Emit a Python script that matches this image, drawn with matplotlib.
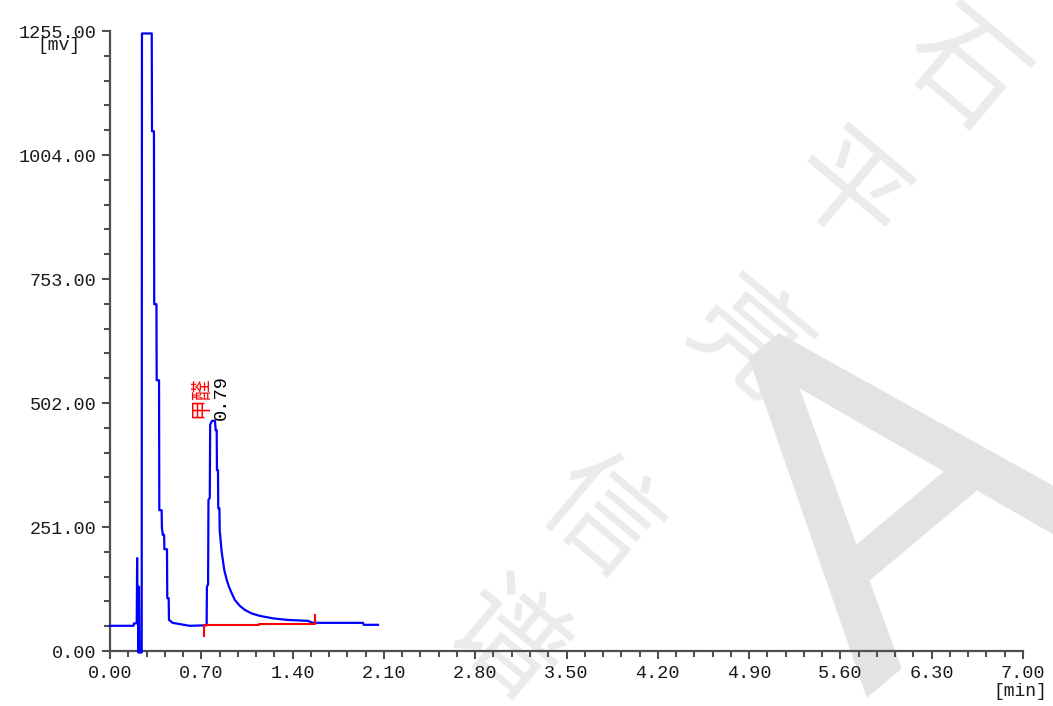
import matplotlib
matplotlib.use('Agg')
import matplotlib.pyplot as plt
import numpy as np

# chromatogram trace (min, mV)
time_min = [0.000, 0.180, 0.184, 0.205, 0.208, 0.211, 0.214, 0.218, 0.222, 0.226,
            0.243, 0.245, 0.320, 0.322, 0.337, 0.339, 0.356, 0.358, 0.376, 0.378,
            0.396, 0.398, 0.405, 0.415, 0.417, 0.437, 0.439, 0.450, 0.452, 0.480,
            0.610, 0.741, 0.743, 0.752, 0.755, 0.765, 0.768, 0.782, 0.805, 0.810,
            0.818, 0.820, 0.828, 0.830, 0.839, 0.841, 0.856, 0.876, 0.895, 0.912,
            0.933, 0.958, 0.997, 1.035, 1.086, 1.150, 1.252, 1.355, 1.518, 1.556,
            1.940, 1.945, 2.055]
signal_mv = [51, 51, 56, 56, 188, 60, 130, -3, 130, -3,
             -3, 1250, 1250, 1052, 1052, 702, 702, 548, 548, 285,
             285, 249, 235, 235, 206, 206, 107, 107, 63, 57,
             51, 52, 130, 135, 306, 310, 458, 466, 466, 447,
             447, 366, 366, 289, 289, 245, 201, 164, 144, 130,
             117, 103, 91, 83, 76, 71, 66, 63, 61, 57,
             57, 53, 53]

# integration baseline of the 0.79 min peak
base_t = [0.72, 0.72, 1.142, 1.142, 1.572, 1.572]
base_mv = [30, 53, 53, 55, 55, 73]

peak_name = '甲醛'
peak_rt = '0.79'
peak_label_t = [0.69, 0.851]
peak_label_mv = [471, 467]

x_ticks = [0.00, 0.70, 1.40, 2.10, 2.80, 3.50, 4.20, 4.90, 5.60, 6.30, 7.00]
y_ticks = [0.00, 251.00, 502.00, 753.00, 1004.00, 1255.00]

axis_grey = '#505050'
mono = 'Liberation Mono'
cjk = ['Noto Sans CJK SC', 'DejaVu Sans']

fig = plt.figure(figsize=(10.53, 7.06), dpi=100)
ax = fig.add_axes([110 / 1053, 55 / 706, 913 / 1053, 620 / 706])
ax.set_zorder(1)
ax.patch.set_alpha(0)

# watermark behind everything
W, H = 1053, 706
for ch, (px, py) in zip('石平亮信谱', [(962, 72), (845, 195), (745, 345), (600, 520), (505, 645)]):
    fig.text(px / W, 1 - py / H, ch, fontsize=82, rotation=-40, color='#ebebeb',
             zorder=0, family=cjk, fontweight='light', ha='center', va='center')
fig.text(895 / W, 1 - 500 / H, 'A', fontsize=340, rotation=40, color='#e3e3e3',
         zorder=0, family='Roboto', ha='center', va='center')

ax.plot(time_min, signal_mv, color='#0000ff', lw=1.6, zorder=3, clip_on=False)
ax.plot(base_t, base_mv, color='#ff0000', lw=1.5, zorder=4)

ax.text(peak_label_t[0], peak_label_mv[0], peak_name, color='#ff0000', rotation=90,
        ha='center', va='bottom', fontsize=15, family=cjk)
ax.text(peak_label_t[1], peak_label_mv[1], peak_rt, color='black', rotation=90,
        ha='center', va='bottom', fontsize=13.5, family=mono)

ax.set_xlim(0, 7)
ax.set_ylim(0, 1255)
ax.set_xticks(x_ticks)
ax.set_xticklabels([f'{v:.2f}' for v in x_ticks])
ax.set_yticks(y_ticks)
ax.set_yticklabels([f'{v:.2f}' for v in y_ticks])
ax.set_xticks(np.arange(0, 7.001, 0.14), minor=True)
ax.set_yticks(np.arange(0, 1255.1, 50.2), minor=True)

for s in ['top', 'right']:
    ax.spines[s].set_visible(False)
for s in ['left', 'bottom']:
    ax.spines[s].set_color(axis_grey)
    ax.spines[s].set_linewidth(1.6)

ax.tick_params(which='major', direction='out', length=6, width=1.5, color=axis_grey,
               labelsize=13.3, labelcolor='#1a1a1a', pad=4)
ax.tick_params(which='minor', direction='out', length=4, width=1.5, color=axis_grey)
for lab in ax.get_xticklabels() + ax.get_yticklabels():
    lab.set_family(mono)

fig.text(59 / W, 1 - 46 / H, '[mv]', fontsize=13, family=mono, color='#1a1a1a',
         ha='center', va='center')
fig.text(1020 / W, 1 - 691 / H, '[min]', fontsize=13, family=mono, color='#1a1a1a',
         ha='center', va='center')

fig.savefig('out.png', dpi=100)
